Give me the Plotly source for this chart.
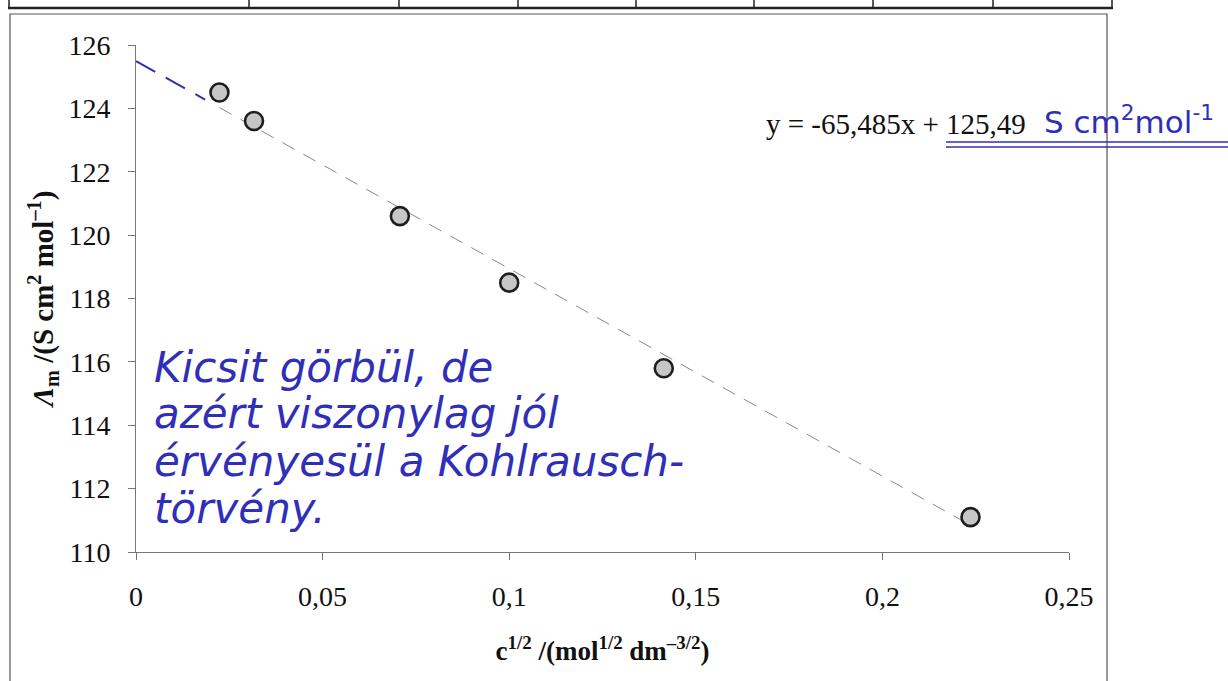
import plotly.graph_objects as go

# ---- data ----
x_sqrt_c = [0.02236, 0.03162, 0.07071, 0.1, 0.14142, 0.22361]
lambda_m = [124.5, 123.6, 120.6, 118.5, 115.8, 111.1]
slope = -65.485
intercept = 125.49
x_ticks = [0, 0.05, 0.1, 0.15, 0.2, 0.25]
x_tick_labels = ["0", "0,05", "0,1", "0,15", "0,2", "0,25"]
y_ticks = [110, 112, 114, 116, 118, 120, 122, 124, 126]
y_tick_labels = ["110", "112", "114", "116", "118", "120", "122", "124", "126"]
equation_text = "y = -65,485x + 125,49"
unit_text = "S cm<sup>2</sup>mol<sup>-1</sup>"
note_lines = ["Kicsit görbül, de", "azért viszonylag jól",
              "érvényesül a Kohlrausch-", "törvény."]

# ---- layout geometry (pixels) ----
W, H = 1228, 681
L, R, T, B = 136, 1069, 45, 552
def px(xp): return (xp - L) / (R - L)
def py(yp): return (B - yp) / (B - T)

BLUE = "#2f2fb8"
SERIF = "Liberation Serif, Times New Roman, serif"

fig = go.Figure()

# Excel trendline over data range
xs_fit = [min(x_sqrt_c), max(x_sqrt_c)]
fig.add_trace(go.Scatter(x=xs_fit, y=[slope * v + intercept for v in xs_fit],
                         mode="lines", line=dict(color="#8a8a8a", width=1, dash="14px,10px"),
                         hoverinfo="skip", showlegend=False))
# hand-drawn extrapolation to c = 0
xs_ext = [0, 0.0185]
fig.add_trace(go.Scatter(x=xs_ext, y=[slope * v + intercept for v in xs_ext],
                         mode="lines", line=dict(color=BLUE, width=2, dash="22px,12px"),
                         hoverinfo="skip", showlegend=False))
# data points
fig.add_trace(go.Scatter(x=x_sqrt_c, y=lambda_m, mode="markers",
                         marker=dict(size=18, color="#c6c6c6",
                                     line=dict(color="#1e1e1e", width=2.6)),
                         showlegend=False))

shapes = []
# outer chart box
shapes.append(dict(type="rect", xref="paper", yref="paper",
                   x0=px(10), x1=px(1107), y0=py(695), y1=py(14),
                   line=dict(color="#555555", width=1.2), layer="below"))
# table row at top
shapes.append(dict(type="line", xref="paper", yref="paper",
                   x0=px(8), x1=px(1113), y0=py(8), y1=py(8),
                   line=dict(color="#222222", width=2.5)))
for xv in [9, 249, 399, 518, 636, 754, 873, 993, 1112]:
    shapes.append(dict(type="line", xref="paper", yref="paper",
                       x0=px(xv), x1=px(xv), y0=py(-2), y1=py(8),
                       line=dict(color="#222222", width=1.5)))
# double underline (handwritten)
for yv in [142, 147]:
    shapes.append(dict(type="line", xref="paper", yref="paper",
                       x0=px(946), x1=px(1228), y0=py(yv), y1=py(yv),
                       line=dict(color=BLUE, width=1.6)))

annotations = [
    dict(text=equation_text, xref="paper", yref="paper", x=px(1028), y=py(124),
         xanchor="right", yanchor="middle", showarrow=False,
         font=dict(family=SERIF, size=29, color="#111111")),
    dict(text=unit_text, xref="paper", yref="paper", x=px(1042), y=py(120),
         xanchor="left", yanchor="middle", showarrow=False,
         font=dict(family="DejaVu Sans", size=31, color=BLUE)),
]
for i, line in enumerate(note_lines):
    annotations.append(dict(text="<i>" + line + "</i>", xref="paper", yref="paper",
                            x=px(152), y=py(367 + i * 47), xanchor="left", yanchor="middle",
                            showarrow=False,
                            font=dict(family="DejaVu Sans", size=42, color=BLUE)))

fig.update_layout(
    width=W, height=H,
    margin=dict(l=L, r=W - R, t=T, b=H - B),
    paper_bgcolor="white", plot_bgcolor="white",
    font=dict(family=SERIF, color="#111111"),
    shapes=shapes, annotations=annotations,
    xaxis=dict(range=[0, 0.25], tickvals=x_ticks, ticktext=x_tick_labels,
               showgrid=False, zeroline=False, showline=True,
               linecolor="#777777", linewidth=1, ticks="outside", ticklen=7,
               tickcolor="#777777", tickfont=dict(family=SERIF, size=28),
               ticklabelstandoff=12,
               title=dict(text="<b>c<sup>1/2</sup> /(mol<sup>1/2</sup> dm<sup>–3/2</sup>)</b>",
                          font=dict(family=SERIF, size=27), standoff=30)),
    yaxis=dict(range=[110, 126], tickvals=y_ticks, ticktext=y_tick_labels,
               showgrid=False, zeroline=False, showline=True,
               linecolor="#777777", linewidth=1, ticks="outside", ticklen=7,
               tickcolor="#777777", tickfont=dict(family=SERIF, size=28),
               ticklabelstandoff=12,
               title=dict(text="<b><i>Λ</i><sub>m</sub> /(S cm<sup>2</sup> mol<sup>–1</sup>)</b>",
                          font=dict(family=SERIF, size=29), standoff=6)),
)

fig.write_html("out.html", config={"displayModeBar": False},
               post_script="document.body.style.margin='0';")
